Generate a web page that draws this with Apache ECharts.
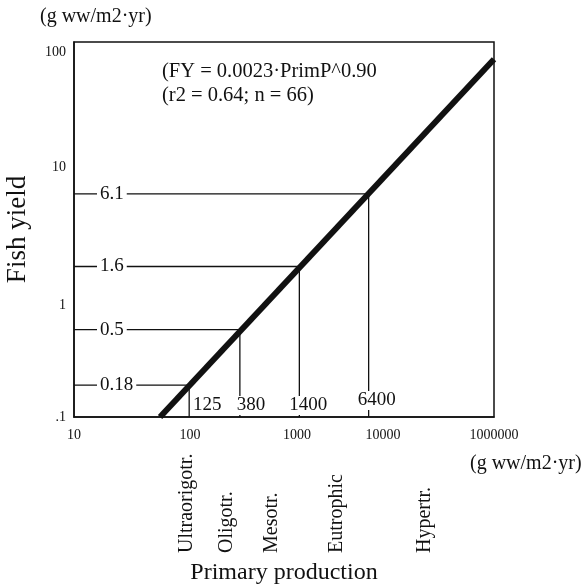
<!DOCTYPE html>
<html>
<head>
<meta charset="utf-8">
<script src="https://cdn.jsdelivr.net/npm/echarts@6/dist/echarts.min.js"></script>
<style>
  html, body { margin: 0; padding: 0; background: #fff; }
  #chart { width: 588px; height: 585px; }
</style>
</head>
<body>
<div id="chart"></div>
<script>
// fitted regression line, FY = 0.0023 * PrimP^0.90 (end points)
const fitLine = [[66, 0.1], [100000, 72.7]];
// marked reference points: primary production -> fish yield
const primProd = [125, 380, 1400, 6400];
const fishYield = [0.18, 0.5, 1.6, 6.1];
const primProdLabels = ["125", "380", "1400", "6400"];
const fishYieldLabels = ["0.18", "0.5", "1.6", "6.1"];
const xTickLabels = ["10", "100", "1000", "10000", "1000000"];
const yTickLabels = [".1", "1", "10", "100"];
const trophicClasses = ["Ultraorigotr.", "Oligotr.", "Mesotr.", "Eutrophic", "Hypertr."];

const FONT = "Liberation Serif, Times New Roman, serif";
const INK = "#111";

const chart = echarts.init(document.getElementById("chart"));

// small nudges so the tick labels sit where the printed ones are
const xRich = {
  p0: { fontSize: 14, fontFamily: FONT, color: INK },
  p1: { fontSize: 14, fontFamily: FONT, color: INK, padding: [0, 0, 0, 22] },
  p2: { fontSize: 14, fontFamily: FONT, color: INK, padding: [0, 0, 0, 26] },
  p3: { fontSize: 14, fontFamily: FONT, color: INK, padding: [0, 12, 0, 0] },
  p4: { fontSize: 14, fontFamily: FONT, color: INK },
};
const yRich = {
  p0: { fontSize: 14, fontFamily: FONT, color: INK },
  p1: { fontSize: 14, fontFamily: FONT, color: INK, padding: [26, 0, 0, 0] },
  p2: { fontSize: 14, fontFamily: FONT, color: INK },
  p3: { fontSize: 14, fontFamily: FONT, color: INK, padding: [20, 0, 0, 0] },
};
const dropDx = [18, 11, 9, 8];
const dropDy = [0, 0, 0, -5];
const classX = [187, 227, 272, 337, 425];

const series = [];

// drop lines: from the y axis across to the fit, then down to the x axis
primProd.forEach((p, i) => {
  series.push({
    type: "line",
    data: [[10, fishYield[i]], [p, fishYield[i]], [p, 0.1]],
    showSymbol: false,
    lineStyle: { color: INK, width: 1.3 },
    z: 2,
    silent: true,
  });
});

series.push({
  name: "fit",
  type: "line",
  data: fitLine,
  showSymbol: false,
  lineStyle: { color: "#111", width: 6, cap: "butt" },
  z: 5,
  silent: true,
});

// fish yield labels sitting on the horizontal lines
series.push({
  type: "scatter",
  symbolSize: 0,
  itemStyle: { opacity: 1 },
  data: fishYield.map((v, i) => ({
    value: [10, v],
    label: { formatter: fishYieldLabels[i] },
  })),
  label: {
    show: true,
    position: "right",
    distance: 23,
    backgroundColor: "#fff",
    padding: [0, 3],
    fontSize: 19,
    fontFamily: FONT,
    color: INK,
    opacity: 1,
  },
  z: 6,
  silent: true,
});

// primary production labels at the foot of the vertical lines
series.push({
  type: "scatter",
  symbolSize: 0,
  itemStyle: { opacity: 1 },
  data: primProd.map((p, i) => ({
    value: [p, 0.1],
    label: {
      formatter: primProdLabels[i],
      offset: [dropDx[i], dropDy[i]],
      backgroundColor: i === 0 ? "transparent" : "#fff",
    },
  })),
  label: {
    show: true,
    position: "top",
    distance: 2,
    padding: [0, 1],
    fontSize: 19,
    fontFamily: FONT,
    color: INK,
    opacity: 1,
  },
  z: 6,
  silent: true,
});

const textStyle = (size) => ({ fontSize: size, fontFamily: FONT, fill: INK });

const graphic = [
  { type: "text", left: 40, top: 7, style: Object.assign({ text: "(g ww/m2·yr)" }, textStyle(20)) },
  { type: "text", left: 470, top: 454, style: Object.assign({ text: "(g ww/m2·yr)" }, textStyle(20)) },
  { type: "text", left: 162, top: 61, style: Object.assign({ text: "(FY = 0.0023·PrimP^0.90" }, textStyle(20.5)) },
  { type: "text", left: 162, top: 85, style: Object.assign({ text: "(r2 = 0.64; n = 66)" }, textStyle(20.5)) },
];
trophicClasses.forEach((name, i) => {
  graphic.push({
    type: "text",
    x: classX[i],
    y: 553,
    rotation: Math.PI / 2,
    style: Object.assign(
      { text: name, align: "left", verticalAlign: "middle", textAlign: "left", textVerticalAlign: "middle" },
      textStyle(20)
    ),
  });
});

const option = {
  animation: false,
  backgroundColor: "#fff",
  grid: {
    left: 74,
    right: 94,
    top: 42,
    bottom: 168,
    containLabel: false,
    outerBoundsMode: "none",
    show: true,
    borderColor: INK,
    borderWidth: 1.5,
  },
  xAxis: {
    type: "log",
    logBase: 10,
    min: 10,
    max: 100000,
    name: "Primary production",
    nameLocation: "middle",
    nameGap: 144,
    nameTextStyle: { fontSize: 24, fontFamily: FONT, color: INK },
    axisLine: { show: true, lineStyle: { color: INK, width: 1.5 } },
    axisTick: { show: false },
    splitLine: { show: false },
    axisLabel: {
      margin: 11,
      formatter: (v) => {
        const i = Math.round(Math.log10(v)) - 1;
        return "{p" + i + "|" + xTickLabels[i] + "}";
      },
      rich: xRich,
    },
  },
  yAxis: {
    type: "log",
    logBase: 10,
    min: 0.1,
    max: 100,
    name: "Fish yield",
    nameLocation: "middle",
    nameRotate: 90,
    nameGap: 43,
    nameTextStyle: { fontSize: 27, fontFamily: FONT, color: INK },
    axisLine: { show: true, lineStyle: { color: INK, width: 1.5 } },
    axisTick: { show: false },
    splitLine: { show: false },
    axisLabel: {
      margin: 8,
      formatter: (v) => {
        const i = Math.round(Math.log10(v)) + 1;
        return "{p" + i + "|" + yTickLabels[i] + "}";
      },
      rich: yRich,
    },
  },
  graphic: graphic,
  series: series,
};

chart.setOption(option);
</script>
</body>
</html>
